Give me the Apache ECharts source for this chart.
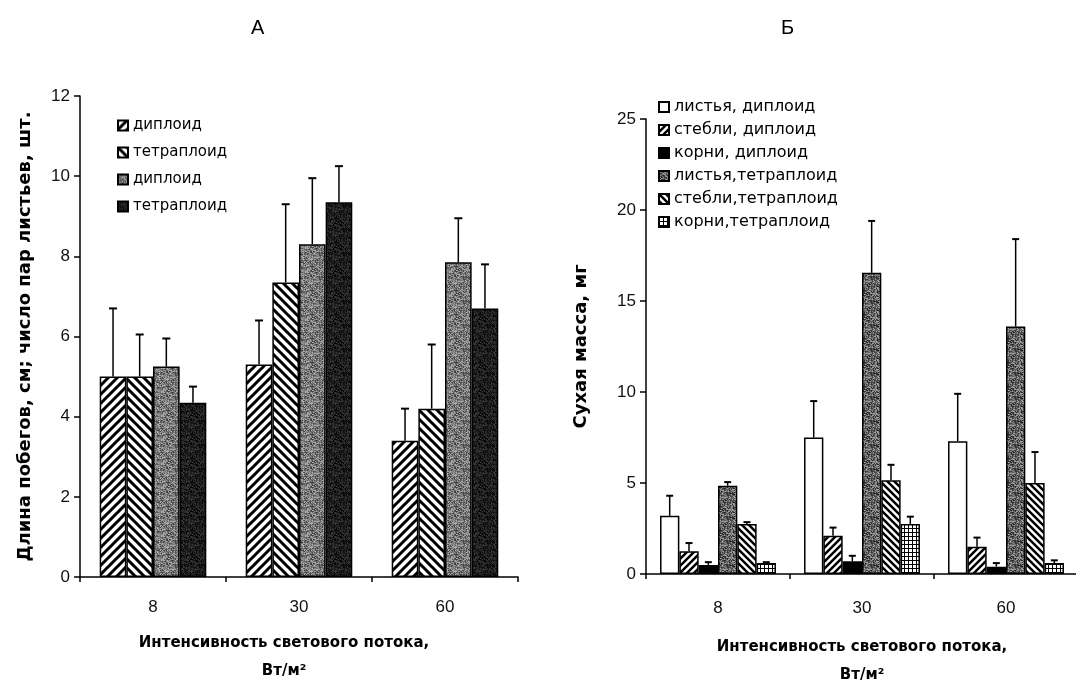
<!DOCTYPE html>
<html>
<head>
<meta charset="utf-8">
<script src="https://cdn.jsdelivr.net/npm/echarts@6/dist/echarts.min.js"></script>
<style>
  html, body { margin: 0; padding: 0; background: #fff; }
  #chart { width: 1076px; height: 685px; }
</style>
</head>
<body>
<div id="chart"></div>
<script>
// categories: light intensity, W/m2
var categories = ['8', '30', '60'];

// Panel A: shoot length, cm; number of leaf pairs
var namesA = ['диплоид', 'тетраплоид', 'диплоид ', 'тетраплоид '];
var shootDiploid = [5.0, 5.3, 3.4];
var shootTetraploid = [5.0, 7.35, 4.2];
var leafDiploid = [5.25, 8.3, 7.85];
var leafTetraploid = [4.35, 9.35, 6.7];
var shootDiploidErr = [1.7, 1.1, 0.8];
var shootTetraploidErr = [1.05, 1.95, 1.6];
var leafDiploidErr = [0.7, 1.65, 1.1];
var leafTetraploidErr = [0.4, 0.9, 1.1];

// Panel Б: dry mass, mg
var namesB = ['листья, диплоид', 'стебли, диплоид', 'корни, диплоид',
              'листья,тетраплоид', 'стебли,тетраплоид', 'корни,тетраплоид'];
var leavesDip = [3.2, 7.5, 7.3];
var stemsDip = [1.25, 2.1, 1.5];
var rootsDip = [0.5, 0.7, 0.4];
var leavesTet = [4.85, 16.55, 13.6];
var stemsTet = [2.75, 5.15, 5.0];
var rootsTet = [0.6, 2.75, 0.6];
var leavesDipErr = [1.1, 2.0, 2.6];
var stemsDipErr = [0.45, 0.45, 0.5];
var rootsDipErr = [0.15, 0.3, 0.2];
var leavesTetErr = [0.2, 2.85, 4.8];
var stemsTetErr = [0.1, 0.85, 1.7];
var rootsTetErr = [0.05, 0.4, 0.15];

var ticksA = [0, 2, 4, 6, 8, 10, 12];
var ticksB = [0, 5, 10, 15, 20, 25];

// ---- fill patterns ----
function hatch(p, w, back) {
  var c = document.createElement('canvas');
  c.width = p; c.height = p;
  var ctx = c.getContext('2d');
  ctx.fillStyle = '#fff';
  ctx.fillRect(0, 0, p, p);
  ctx.strokeStyle = '#000';
  ctx.lineWidth = w;
  ctx.beginPath();
  if (!back) {
    ctx.moveTo(-p, 2 * p); ctx.lineTo(2 * p, -p);
    ctx.moveTo(-p, p); ctx.lineTo(p, -p);
    ctx.moveTo(0, 2 * p); ctx.lineTo(2 * p, 0);
  } else {
    ctx.moveTo(-p, -p); ctx.lineTo(2 * p, 2 * p);
    ctx.moveTo(0, -p); ctx.lineTo(2 * p, p);
    ctx.moveTo(-p, 0); ctx.lineTo(p, 2 * p);
  }
  ctx.stroke();
  return { image: c, repeat: 'repeat' };
}

// printed-halftone look: fixed hash noise around a base grey
function stipple(base, spread) {
  var s = 24;
  var c = document.createElement('canvas');
  c.width = s; c.height = s;
  var ctx = c.getContext('2d');
  for (var y = 0; y < s; y++) {
    for (var x = 0; x < s; x++) {
      var h = Math.sin(x * 12.9898 + y * 78.233) * 43758.5453;
      h = h - Math.floor(h);
      var g = Math.round(Math.max(0, Math.min(255, base + (h - 0.5) * 2 * spread)));
      ctx.fillStyle = 'rgb(' + g + ',' + g + ',' + g + ')';
      ctx.fillRect(x, y, 1, 1);
    }
  }
  return { image: c, repeat: 'repeat' };
}

function grid(p) {
  var c = document.createElement('canvas');
  c.width = p; c.height = p;
  var ctx = c.getContext('2d');
  ctx.fillStyle = '#fff';
  ctx.fillRect(0, 0, p, p);
  ctx.fillStyle = '#000';
  ctx.fillRect(0, 0, p, 1);
  ctx.fillRect(0, 0, 1, p);
  return { image: c, repeat: 'repeat' };
}

var chart = echarts.init(document.getElementById('chart'), null, { renderer: 'canvas' });

var gapA = 0.27, gapB = 0.195;

function errRender(n, gap, cap) {
  return function (params, api) {
    var band = api.size([1, 0])[0];
    var groupW = band * (1 - gap);
    var bw = groupW / n;
    var base = api.coord([api.value(0), api.value(2)]);
    var top = api.coord([api.value(0), api.value(2) + api.value(3)]);
    var x = base[0] - groupW / 2 + (api.value(1) + 0.5) * bw;
    return {
      type: 'group',
      children: [
        { type: 'line', shape: { x1: x, y1: base[1], x2: x, y2: top[1] }, style: { stroke: '#000', lineWidth: 1.5 } },
        { type: 'line', shape: { x1: x - cap, y1: top[1], x2: x + cap, y2: top[1] }, style: { stroke: '#000', lineWidth: 2 } }
      ]
    };
  };
}

function errData(vals, errs) {
  var out = [];
  vals.forEach(function (v, i) {
    v.forEach(function (val, j) { out.push([j, i, val, errs[i][j]]); });
  });
  return out;
}

var valsA = [shootDiploid, shootTetraploid, leafDiploid, leafTetraploid];
var errsA = [shootDiploidErr, shootTetraploidErr, leafDiploidErr, leafTetraploidErr];
var fillsA = [hatch(9, 3, false), hatch(9, 3, true), stipple(120, 60), stipple(30, 30)];

var valsB = [leavesDip, stemsDip, rootsDip, leavesTet, stemsTet, rootsTet];
var errsB = [leavesDipErr, stemsDipErr, rootsDipErr, leavesTetErr, stemsTetErr, rootsTetErr];
var fillsB = ['#fff', hatch(7, 2.5, false), '#000', stipple(100, 70), hatch(7, 2.5, true), grid(4)];

var font = "'Liberation Sans', Arial, sans-serif";
var wide = "'DejaVu Sans', sans-serif";

var series = [];
valsA.forEach(function (v, i) {
  series.push({
    name: namesA[i], type: 'bar', xAxisIndex: 0, yAxisIndex: 0,
    barGap: '0%', barCategoryGap: (gapA * 100) + '%',
    itemStyle: { color: fillsA[i], borderColor: '#000', borderWidth: 1.5 },
    data: v
  });
});
valsB.forEach(function (v, i) {
  series.push({
    name: namesB[i], type: 'bar', xAxisIndex: 1, yAxisIndex: 1,
    barGap: '0%', barCategoryGap: (gapB * 100) + '%',
    itemStyle: { color: fillsB[i], borderColor: '#000', borderWidth: 1.5 },
    data: v
  });
});
series.push({
  type: 'custom', xAxisIndex: 0, yAxisIndex: 0, z: 5,
  renderItem: errRender(4, gapA, 4), data: errData(valsA, errsA)
});
series.push({
  type: 'custom', xAxisIndex: 1, yAxisIndex: 1, z: 5,
  renderItem: errRender(6, gapB, 3.5), data: errData(valsB, errsB)
});

function xAxis(gridIndex, gap, pad, margin) {
  return {
    type: 'category', gridIndex: gridIndex, data: categories,
    axisLine: { lineStyle: { color: '#000', width: 1.5 } },
    axisTick: { show: true, length: 5, lineStyle: { color: '#000', width: 1.5 } },
    axisLabel: { color: '#111', fontFamily: font, fontSize: 17, margin: margin },
    name: 'Интенсивность светового потока,\nВт/м²',
    nameLocation: 'middle', nameGap: gap,
    nameTextStyle: { color: '#000', fontFamily: wide, fontWeight: 'bold', fontSize: 15, lineHeight: 28, padding: pad }
  };
}

function yAxis(gridIndex, max, interval, name, gap, size) {
  return {
    type: 'value', gridIndex: gridIndex, min: 0, max: max, interval: interval,
    splitLine: { show: false },
    axisLine: { show: true, lineStyle: { color: '#000', width: 1.5 } },
    axisTick: { show: true, length: 6, lineStyle: { color: '#000', width: 1.5 } },
    axisLabel: { color: '#111', fontFamily: font, fontSize: 17, margin: 10 },
    name: name, nameLocation: 'middle', nameGap: gap,
    nameTextStyle: { color: '#000', fontFamily: wide, fontWeight: 'bold', fontSize: size }
  };
}

chart.setOption({
  animation: false,
  backgroundColor: '#fff',
  graphic: [
    { type: 'text', left: 251, top: 18, style: { text: 'А', font: "20px 'Liberation Sans', sans-serif", fill: '#000' } },
    { type: 'text', left: 781, top: 18, style: { text: 'Б', font: "20px 'Liberation Sans', sans-serif", fill: '#000' } }
  ],
  legend: [
    {
      data: namesA, orient: 'vertical', left: 112, top: 113, itemGap: 12,
      itemWidth: 10, itemHeight: 10, icon: 'rect',
      textStyle: { color: '#000', fontFamily: wide, fontSize: 15 }
    },
    {
      data: namesB, orient: 'vertical', left: 653, top: 94, itemGap: 7,
      itemWidth: 10, itemHeight: 10, icon: 'rect',
      textStyle: { color: '#000', fontFamily: wide, fontSize: 16 }
    }
  ],
  grid: [
    { left: 80, top: 96, width: 438, height: 481, containLabel: false, outerBoundsMode: 'none' },
    { left: 646, top: 119, width: 432, height: 455, containLabel: false, outerBoundsMode: 'none' }
  ],
  xAxis: [xAxis(0, 52, [0, 30, 0, 0], 22), xAxis(1, 59, [0, 0, 0, 0], 26)],
  yAxis: [
    yAxis(0, ticksA[ticksA.length - 1], ticksA[1] - ticksA[0], 'Длина побегов, см; число пар листьев, шт.', 46, 18),
    yAxis(1, ticksB[ticksB.length - 1], ticksB[1] - ticksB[0], 'Сухая масса, мг', 56, 18)
  ],
  series: series
});
</script>
</body>
</html>
